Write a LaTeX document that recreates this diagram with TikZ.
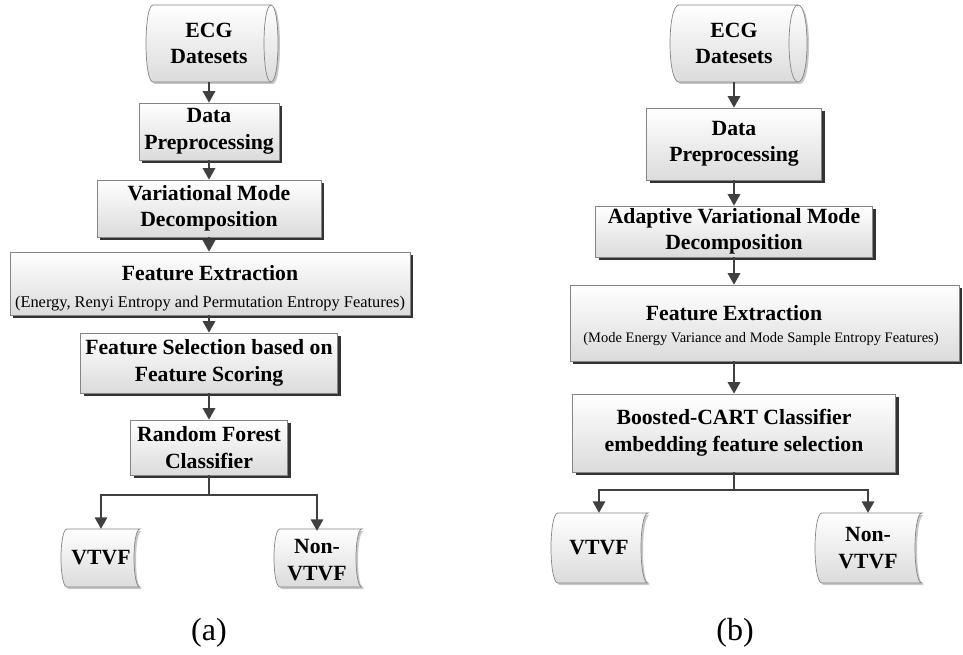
\documentclass[tikz,border=0pt]{standalone}
\usepackage{fontspec}
\setmainfont{Liberation Serif}
\usetikzlibrary{arrows.meta,shadows}
\definecolor{linegray}{HTML}{404040}
\definecolor{edgegray}{HTML}{858585}
\tikzset{
  boldtext/.style={font=\bfseries\fontsize{21.7}{26.5}\selectfont},
  flowbox/.style={draw=edgegray, line width=0.7pt, top color=white, bottom color=black!14,
    drop shadow={shadow xshift=3pt, shadow yshift=-3pt, fill=black!80, opacity=1},
    inner sep=0pt, align=center, boldtext},
  storefill/.style={draw=edgegray, line width=0.7pt, top color=white, bottom color=black!14,
    drop shadow={shadow xshift=2pt, shadow yshift=-2pt, fill=black!22, opacity=1}},
  lbl/.style={inner sep=0pt, align=center, boldtext},
  sublbl/.style={inner sep=0pt, anchor=base},
  flowarrow/.style={draw=linegray, line width=1.6pt, -{Triangle[width=12.5pt,length=11.5pt]}},
  flowline/.style={draw=linegray, line width=1.6pt},
  caption/.style={inner sep=0pt, font=\fontsize{32}{36}\selectfont}
}
% stored-data outline: x-left, x-right, top, bottom, bulge
\newcommand\storedshape[5]{%
  \path[storefill] (#1,#3) -- (#2,#3)
    .. controls ({#2-1.333*#5},#3) and ({#2-1.333*#5},#4) .. (#2,#4)
    -- (#1,#4) .. controls ({#1-1.333*#5},#4) and ({#1-1.333*#5},#3) .. (#1,#3) -- cycle;}
% horizontal drum (data set): x-left, x-right, top, bottom, bulge
\newcommand\ecgdrum[5]{%
  \path[storefill] (#1,#3) -- (#2,#3)
    .. controls ({#2+1.333*#5},#3) and ({#2+1.333*#5},#4) .. (#2,#4)
    -- (#1,#4) .. controls ({#1-1.333*#5},#4) and ({#1-1.333*#5},#3) .. (#1,#3) -- cycle;
  \draw[edgegray, line width=0.7pt] (#2,#3)
    .. controls ({#2-1.333*#5},#3) and ({#2-1.333*#5},#4) .. (#2,#4);}
\begin{document}
\begin{tikzpicture}[x=1pt, y=-1pt]
\useasboundingbox[fill=white] (0,0) rectangle (963,655);

% ---------------- (a) ----------------
\ecgdrum{153}{271}{5}{82}{7}
\node[lbl, minimum width=110pt, minimum height=77pt] (ecgA) at (209,43.5) {ECG\\Datesets};
\node[flowbox, minimum width=140pt, minimum height=57pt] (dpA) at (209,131.5) {Data\\Preprocessing};
\node[flowbox, minimum width=224pt, minimum height=57pt] (vmdA) at (209,208.5) {Variational Mode\\Decomposition};
\node[flowbox, minimum width=400pt, minimum height=63pt] (feA) at (210,283.5) {};
\node[sublbl, boldtext] (feAh) at (210,280) {Feature Extraction};
\node[sublbl, font=\fontsize{16.4}{20}\selectfont] (feAs) at (210,307) {(Energy, Renyi Entropy and Permutation Entropy Features)};
\node[flowbox, minimum width=257pt, minimum height=60pt] (fsA) at (209,363) {Feature Selection based on\\Feature Scoring};
\node[flowbox, minimum width=157pt, minimum height=55pt] (rfA) at (209,447.5) {Random Forest\\Classifier};
\storedshape{67}{140}{529}{587}{6}
\node[lbl, minimum width=73pt, minimum height=58pt] (vtvfA) at (101,558) {VTVF};
\storedshape{280}{362}{529}{587}{6}
\node[lbl, minimum width=82pt, minimum height=58pt] (nonA) at (317,560) {Non-\\VTVF};
\coordinate (brA) at (209,495);

\draw[flowarrow] (ecgA) -- (dpA);
\draw[flowarrow] (dpA) -- (vmdA);
\draw[flowarrow] (vmdA.south) -- (vmdA.south |- feA.north);
\draw[flowarrow] (fsA.north |- feA.south) -- (fsA.north);
\draw[flowarrow] (fsA) -- (rfA);
\draw[flowline] (rfA.south) -- (brA);
\draw[flowarrow] (brA) -| (vtvfA.north);
\draw[flowarrow] (brA) -| (nonA.north);
\node[caption] (capA) at (209,633) {(a)};

% ---------------- (b) ----------------
\ecgdrum{679}{798}{5}{82}{9}
\node[lbl, minimum width=110pt, minimum height=77pt] (ecgB) at (734,43.5) {ECG\\Datesets};
\node[flowbox, minimum width=175pt, minimum height=72pt] (dpB) at (734,144) {Data\\Preprocessing};
\node[flowbox, minimum width=277pt, minimum height=51pt] (avmdB) at (734,231.5) {Adaptive Variational Mode\\Decomposition};
\node[flowbox, minimum width=389pt, minimum height=76pt] (feB) at (764.5,323) {};
\node[sublbl, boldtext] (feBh) at (734,320) {Feature Extraction};
\node[sublbl, font=\fontsize{14.5}{18}\selectfont] (feBs) at (761,342) {(Mode Energy Variance and Mode Sample Entropy Features)};
\node[flowbox, minimum width=323pt, minimum height=78pt] (boostB) at (734,433) {Boosted-CART Classifier\\embedding feature selection};
\storedshape{558}{648}{513}{583}{7}
\node[lbl, minimum width=80pt, minimum height=70pt] (vtvfB) at (599,548) {VTVF};
\storedshape{822}{922}{513}{583}{7}
\node[lbl, minimum width=90pt, minimum height=70pt] (nonB) at (868,548) {Non-\\VTVF};
\coordinate (brB) at (734,490);

\draw[flowarrow] (ecgB) -- (dpB);
\draw[flowarrow] (dpB) -- (avmdB);
\draw[flowarrow] (avmdB.south) -- (avmdB.south |- feB.north);
\draw[flowarrow] (boostB.north |- feB.south) -- (boostB.north);
\draw[flowline] (boostB.south) -- (brB);
\draw[flowarrow] (brB) -| (vtvfB.north);
\draw[flowarrow] (brB) -| (nonB.north);
\node[caption] (capB) at (735,633) {(b)};
\end{tikzpicture}
\end{document}
